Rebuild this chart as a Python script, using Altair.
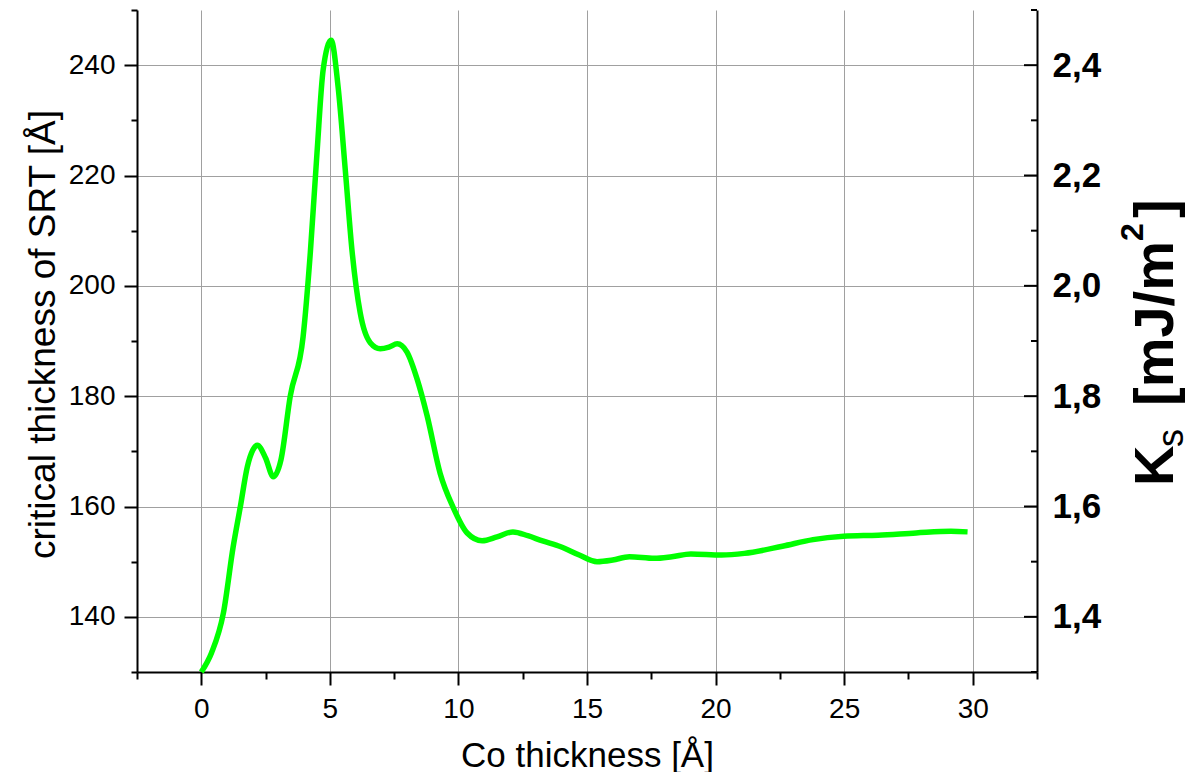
import altair as alt
import pandas as pd

# ---- data ----
co_thickness = [0, 0.4, 0.86, 1.24, 1.52, 1.79, 2.0, 2.18, 2.5, 2.8, 3.1, 3.46, 3.96, 4.24, 4.5,
                4.74, 5.05, 5.32, 5.6, 5.87, 6.18, 6.57, 6.96, 7.3, 7.62, 8.0, 8.4, 8.78, 9.29,
                9.79, 10.34, 10.92, 11.5, 12.12, 12.7, 13.24, 13.98, 14.7, 15.39, 16.0, 16.65,
                17.62, 18.3, 19.04, 20.23, 21.12, 22.6, 23.79, 24.98, 26.32, 27.8, 29.15, 29.8]
srt_critical = [130, 133.5, 140.7, 152.7, 160, 167.2, 170.2, 171.1, 168.8, 165.4, 168.5, 180.0,
                190.8, 206, 224.1, 239.2, 244.5, 236.1, 221, 206, 195.1, 189.7, 188.6, 188.9,
                189.5, 188, 183, 176.5, 166, 159.9, 155.2, 153.8, 154.5, 155.4, 154.7, 153.8,
                152.7, 151.2, 150.0, 150.3, 150.9, 150.6, 150.9, 151.4, 151.2, 151.5, 152.8,
                154.0, 154.6, 154.8, 155.2, 155.5, 155.4]

x_tick_values = [-2.5, 0, 2.5, 5, 7.5, 10, 12.5, 15, 17.5, 20, 22.5, 25, 27.5, 30, 32.5]
y_tick_values = [130, 140, 150, 160, 170, 180, 190, 200, 210, 220, 230, 240, 250]
ks_major = [140, 160, 180, 200, 220, 240]      # K_s * 100 (1,4 ... 2,4)
ks_minor = [130, 150, 170, 190, 210, 230, 250]  # K_s * 100 (1,3 ... 2,5)
ks_title_parts = ["K", "s", "[mJ/m", "2", "]"]

W, H = 900, 662
FONT = "Liberation Sans"

df = pd.DataFrame({"x": co_thickness, "y": srt_critical})

xscale = alt.Scale(domain=[-2.5, 32.5], nice=False, zero=False)
yscale = alt.Scale(domain=[130, 250], nice=False, zero=False)

x_major = "datum.value % 5 === 0"
y_major = "(datum.value - 140) % 20 === 0"

x_axis = alt.Axis(
    values=x_tick_values, title="Co thickness [Å]",
    labelExpr=f"{x_major} ? datum.label : ''", labelOverlap=False, labelFlush=False,
    grid=True, gridColor="#a0a0a0", gridWidth=1,
    gridOpacity={"condition": {"test": x_major, "value": 1}, "value": 0},
    tickSize={"condition": {"test": x_major, "value": 13}, "value": 7},
    tickColor="black", tickWidth=2, domainColor="black", domainWidth=2,
    labelFont=FONT, labelFontSize=28, labelColor="black", labelPadding=10,
    titleFont=FONT, titleFontSize=35, titleFontWeight="normal", titleColor="black",
    titleY=94, titleBaseline="alphabetic",
)

y_axis = alt.Axis(
    values=y_tick_values, orient="left", title="critical thickness of SRT [Å]",
    labelExpr=f"{y_major} ? datum.label : ''", labelOverlap=False, labelFlush=False,
    grid=True, gridColor="#a0a0a0", gridWidth=1,
    gridOpacity={"condition": {"test": y_major, "value": 1}, "value": 0},
    tickSize={"condition": {"test": y_major, "value": 13}, "value": 6},
    tickColor="black", tickWidth=2, domainColor="black", domainWidth=2,
    labelFont=FONT, labelFontSize=28, labelColor="black", labelPadding=9,
    titleFont=FONT, titleFontSize=37, titleFontWeight="normal", titleColor="black",
    titleX=-83, titleY=324, titleAngle=270, titleBaseline="alphabetic", titleAlign="center",
)

right_axis = alt.Axis(
    values=ks_major, orient="right", title=None, ticks=False, grid=False,
    labelExpr="replace(format(datum.value / 100, '.1f'), '.', ',')",
    labelFont=FONT, labelFontSize=35, labelFontWeight="bold", labelColor="black",
    labelPadding=15, labelBaseline="middle", labelOverlap=False, labelFlush=False,
    domainColor="black", domainWidth=2,
)

line = alt.Chart(df).mark_line(color="#00ff00", strokeWidth=5.5, interpolate="monotone").encode(
    x=alt.X("x:Q", scale=xscale, axis=x_axis),
    y=alt.Y("y:Q", scale=yscale, axis=y_axis),
)

right_major = alt.Chart(pd.DataFrame({"v": ks_major})).mark_rule(color="black", strokeWidth=2).encode(
    y=alt.Y("v:Q", scale=yscale, axis=right_axis),
    x=alt.value(W - 13), x2=alt.value(W),
)
right_minor = alt.Chart(pd.DataFrame({"v": ks_minor})).mark_rule(color="black", strokeWidth=2).encode(
    y=alt.Y("v:Q", scale=yscale, axis=None),
    x=alt.value(W - 6), x2=alt.value(W),
)

# right title "K_s [mJ/m^2]" assembled from pieces (sub/superscript)
part_style = {
    "K": dict(size=56, weight="bold", dx=136, y=476),
    "s": dict(size=36, weight="normal", dx=146, y=437),
    "[mJ/m": dict(size=56, weight="bold", dx=136, y=396),
    "2": dict(size=32, weight="bold", dx=106, y=231),
    "]": dict(size=56, weight="bold", dx=136, y=208),
}
title_layers = []
for part in ks_title_parts:
    st = part_style[part]
    title_layers.append(
        alt.Chart(pd.DataFrame({"t": [part]})).mark_text(
            angle=270, align="left", baseline="alphabetic", font=FONT,
            fontSize=st["size"], fontWeight=st["weight"], color="black",
        ).encode(text="t:N", x=alt.value(W + st["dx"]), y=alt.value(st["y"]))
    )

chart = alt.layer(line, right_major, right_minor, *title_layers).resolve_scale(
    y="independent"
).properties(
    width=W, height=H,
    padding={"left": 129, "top": 2, "right": 154, "bottom": 100},
    autosize=alt.AutoSizeParams(type="none"),
    background="white",
).configure_view(stroke=None)

chart.save("out.html", embed_options={"renderer": "svg", "actions": False})
